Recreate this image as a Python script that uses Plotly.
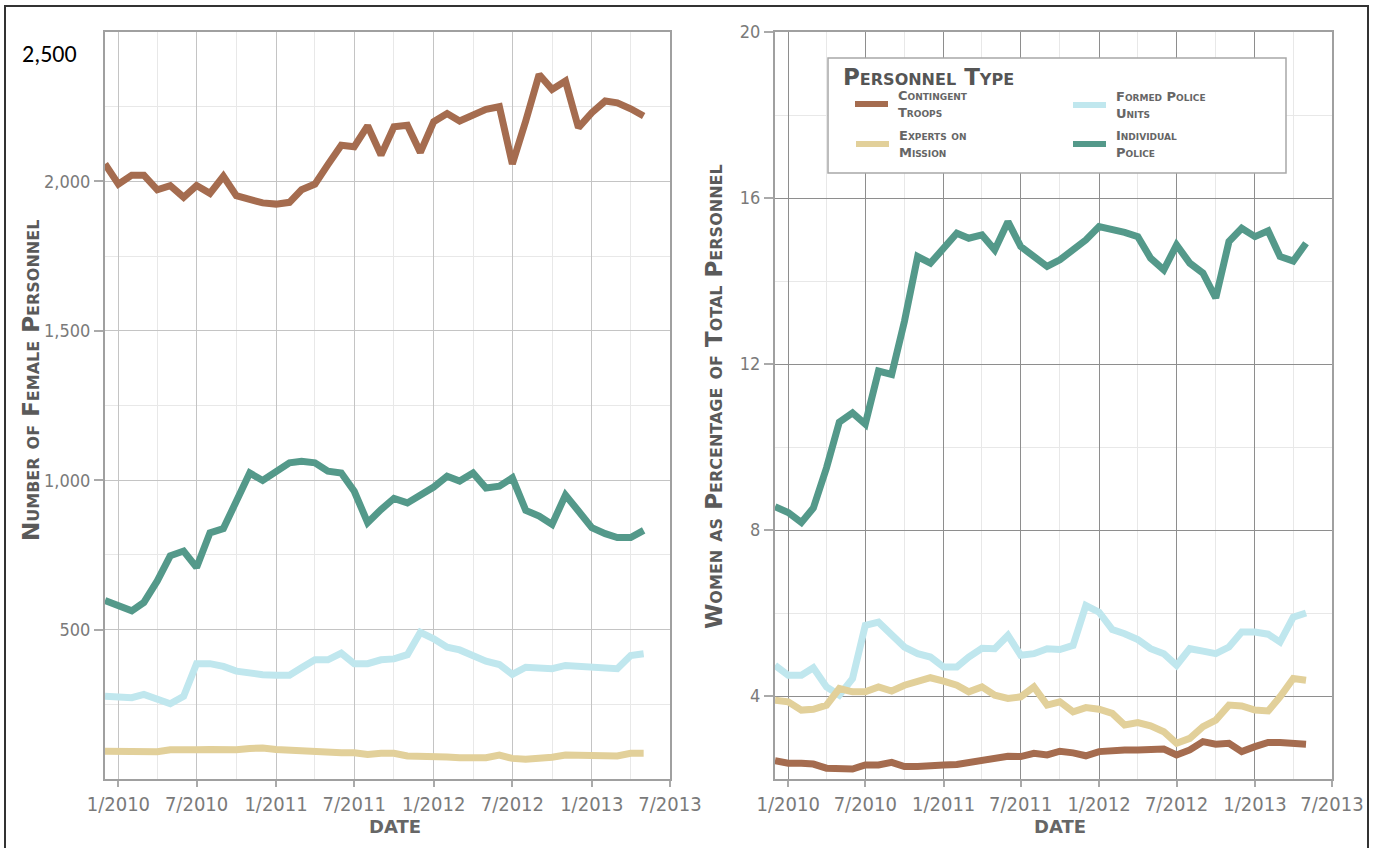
import pandas as pd
import plotly.graph_objects as go

# ---------------- data ----------------
dates = pd.date_range("2009-12-01", periods=42, freq="MS")

series_names = ["Contingent Troops", "Experts on Mission", "Formed Police Units", "Individual Police"]
colors = {
    "Contingent Troops": "#a56c4f",
    "Experts on Mission": "#e2d09a",
    "Formed Police Units": "#c0e7ee",
    "Individual Police": "#54998a",
}

# Number of female personnel
count_contingent = [2058, 1991, 2021, 2021, 1972, 1986, 1947, 1986, 1960, 2017, 1952, 1939, 1928, 1924,
                    1930, 1972, 1991, 2056, 2121, 2116, 2186, 2088, 2183, 2188, 2097, 2200, 2227, 2202,
                    2219, 2241, 2250, 2058, 2202, 2358, 2308, 2336, 2180, 2230, 2269, 2263, 2243, 2219]
count_experts = [93, 91, 89, 88, 91, 98, 96, 98, 99, 96, 98, 102, 104, 99,
                 96, 93, 93, 89, 88, 88, 82, 86, 86, 77, 77, 77, 74, 71,
                 71, 71, 80, 69, 66, 68, 73, 80, 80, 77, 77, 77, 86, 86]
count_fpu = [277, 272, 272, 283, 266, 252, 277, 386, 386, 377, 361, 352, 349, 347,
             347, 372, 399, 399, 421, 386, 386, 399, 402, 416, 491, 469, 441, 432,
             410, 394, 383, 350, 374, 371, 369, 380, 377, 377, 374, 369, 413, 419]
count_ip = [597, 577, 563, 591, 663, 747, 763, 708, 824, 838, 930, 1024, 999, 1030,
            1058, 1063, 1058, 1030, 1024, 963, 858, 902, 939, 924, 950, 977, 1013, 997,
            1024, 974, 980, 1008, 899, 880, 852, 950, 897, 841, 821, 808, 808, 832]

# Women as percentage of total personnel
pct_contingent = [2.44, 2.38, 2.38, 2.36, 2.26, 2.26, 2.24, 2.34, 2.34, 2.40, 2.30, 2.30, 2.30, 2.34,
                  2.35, 2.40, 2.42, 2.50, 2.55, 2.54, 2.62, 2.58, 2.67, 2.63, 2.56, 2.66, 2.70, 2.70,
                  2.70, 2.71, 2.72, 2.58, 2.70, 2.90, 2.84, 2.86, 2.66, 2.78, 2.88, 2.88, 2.88, 2.84]
pct_experts = [3.90, 3.86, 3.66, 3.68, 3.78, 4.18, 4.10, 4.10, 4.22, 4.12, 4.26, 4.34, 4.44, 4.36,
               4.26, 4.10, 4.22, 4.02, 3.94, 3.98, 4.22, 3.78, 3.86, 3.62, 3.72, 3.68, 3.58, 3.30,
               3.36, 3.28, 3.14, 2.86, 2.98, 3.26, 3.42, 3.78, 3.76, 3.66, 3.64, 3.98, 4.42, 4.38]
pct_fpu = [4.74, 4.50, 4.50, 4.68, 4.22, 4.02, 4.42, 5.70, 5.78, 5.50, 5.18, 5.02, 4.94, 4.70,
           4.70, 4.94, 5.15, 5.14, 5.46, 4.98, 5.02, 5.14, 5.12, 5.22, 6.18, 6.02, 5.60, 5.50,
           5.36, 5.14, 5.02, 4.74, 5.14, 5.08, 5.02, 5.18, 5.54, 5.54, 5.49, 5.30, 5.90, 6.00]
pct_ip = [8.56, 8.42, 8.18, 8.53, 9.50, 10.60, 10.82, 10.55, 11.83, 11.75, 13.03, 14.59, 14.43, 14.79,
          15.15, 15.03, 15.11, 14.75, 15.43, 14.83, 14.59, 14.35, 14.51, 14.75, 14.99, 15.31, 15.25, 15.17,
          15.07, 14.55, 14.27, 14.87, 14.43, 14.19, 13.59, 14.95, 15.27, 15.07, 15.21, 14.59, 14.48, 14.91]

left_ticks = [500, 1000, 1500, 2000]
left_ticktext = ["500", "1,000", "1,500", "2,000"]
right_ticks = [4, 8, 12, 16, 20]
right_ticktext = ["4", "8", "12", "16", "20"]

# ---------------- figure ----------------
W, H = 1375, 848
def px(x):
    return x / W
def py(y):
    return 1 - y / H

fig = go.Figure()

left_data = {
    "Formed Police Units": count_fpu,
    "Experts on Mission": count_experts,
    "Contingent Troops": count_contingent,
    "Individual Police": count_ip,
}
right_data = {
    "Formed Police Units": pct_fpu,
    "Experts on Mission": pct_experts,
    "Contingent Troops": pct_contingent,
    "Individual Police": pct_ip,
}
for name, vals in left_data.items():
    fig.add_trace(go.Scatter(x=dates, y=vals, mode="lines", name=name, showlegend=False,
                             line=dict(color=colors[name], width=7), xaxis="x", yaxis="y"))
for name, vals in right_data.items():
    fig.add_trace(go.Scatter(x=dates, y=vals, mode="lines", name=name, showlegend=False,
                             line=dict(color=colors[name], width=7), xaxis="x2", yaxis="y2"))

narrow = "Noto Sans ExtraCondensed, Noto Sans Condensed, DejaVu Sans Condensed, Liberation Sans Narrow, Liberation Sans, sans-serif"
tick_font_x = dict(family=narrow, size=20, color="#7a7a7a")
tick_font_y = dict(family=narrow, size=18, color="#7a7a7a")

def xaxis_cfg(domain, gridcolor):
    return dict(domain=domain, type="date", range=["2009-12-01", "2013-07-01"],
                tick0="2010-01-01", dtick="M6", tickformat="%-m/%Y", tickangle=0,
                ticks="outside", ticklen=6, tickcolor="#aaaaaa", tickwidth=1.5,
                showgrid=True, gridcolor=gridcolor, gridwidth=1.3,
                minor=dict(dtick="M3", tick0="2010-01-01", showgrid=True, gridcolor="#e8e8e8", gridwidth=1),
                showline=True, linecolor="#a0a0a0", linewidth=2, mirror=True,
                zeroline=False, tickfont=tick_font_x, fixedrange=True, automargin=False)

def yaxis_cfg(domain, rng, tv, tt, minor_dtick, gridcolor, anchor):
    return dict(domain=domain, range=rng, tickmode="array", tickvals=tv, ticktext=tt,
                ticks="outside", ticklen=9, tickcolor="#aaaaaa", tickwidth=1.5,
                showgrid=True, gridcolor=gridcolor, gridwidth=1.3,
                minor=dict(dtick=minor_dtick, tick0=0, showgrid=True, gridcolor="#e8e8e8", gridwidth=1),
                showline=True, linecolor="#a0a0a0", linewidth=2, mirror=True,
                zeroline=False, tickfont=tick_font_y, anchor=anchor, fixedrange=True, automargin=False)

ydom = [69 / H, 1 - 32 / H]
fig.update_layout(
    width=W, height=H,
    margin=dict(l=0, r=0, t=0, b=0, autoexpand=False),
    paper_bgcolor="white", plot_bgcolor="white",
    xaxis=xaxis_cfg([px(105), px(670)], "#c4c4c4") | dict(anchor="y"),
    yaxis=yaxis_cfg(ydom, [0, 2500], left_ticks, left_ticktext, 250, "#c4c4c4", "x"),
    xaxis2=xaxis_cfg([px(775), px(1332)], "#8e8e8e") | dict(anchor="y2"),
    yaxis2=yaxis_cfg(ydom, [2, 20], right_ticks, right_ticktext, 2, "#8e8e8e", "x2"),
    showlegend=False,
)

title_font = dict(family="DejaVu Sans, Verdana, sans-serif", size=23, color="#5a5a5a", weight="bold", variant="small-caps")
ann = []
ann.append(dict(text="Number of Female Personnel", x=px(31), y=py(381), textangle=-90, font=title_font))
ann.append(dict(text="Women as Percentage of Total Personnel", x=px(714), y=py(396), textangle=-90, font=title_font))
date_font = dict(family="DejaVu Sans, Verdana, sans-serif", size=18, color="#666666", weight="bold")
ann.append(dict(text="DATE", x=px(395), y=py(826), font=date_font))
ann.append(dict(text="DATE", x=px(1060), y=py(826), font=date_font))
ann.append(dict(text="2,500", x=px(20), y=py(53), xanchor="left",
                font=dict(family="Carlito, Liberation Sans, Arial, sans-serif", size=24, color="#000000")))

# legend (manual)
shapes = []
shapes.append(dict(type="rect", xref="paper", yref="paper", x0=px(828), x1=px(1286), y0=py(173), y1=py(58),
                   fillcolor="white", line=dict(color="#a8a8a8", width=1.5), layer="above"))
ann.append(dict(text="Personnel Type", x=px(841), y=py(77), xanchor="left",
                font=dict(family="DejaVu Sans, Verdana, sans-serif", size=23, color="#555555", weight="bold", variant="small-caps")))
legend_items = [
    ("Contingent Troops", "Contingent<br>Troops", 855, 104),
    ("Formed Police Units", "Formed Police<br>Units", 1073, 105),
    ("Experts on Mission", "Experts on<br>Mission", 856, 144),
    ("Individual Police", "Individual<br>Police", 1073, 144),
]
item_font = dict(family="DejaVu Sans, Verdana, sans-serif", size=13, color="#666666", weight="bold", variant="small-caps")
for key, label, x0, yc in legend_items:
    shapes.append(dict(type="line", xref="paper", yref="paper", x0=px(x0), x1=px(x0 + 33), y0=py(yc), y1=py(yc),
                       line=dict(color=colors[key], width=6), layer="above"))
    ann.append(dict(text=label, x=px(x0 + 41), y=py(yc), xanchor="left", yanchor="middle", align="left",
                    font=item_font))

# outer frame
shapes.append(dict(type="rect", xref="paper", yref="paper", x0=px(5), x1=px(1368), y0=-0.02, y1=py(6),
                   line=dict(color="#333333", width=2), fillcolor="rgba(0,0,0,0)", layer="above"))

for a in ann:
    a.update(xref="paper", yref="paper", showarrow=False)
    a.setdefault("xanchor", "center")
    a.setdefault("yanchor", "middle")
fig.update_layout(annotations=ann, shapes=shapes)

fig.write_html("out.html", config={"displayModeBar": False},
               post_script="document.body.style.margin='0px';document.body.style.overflow='hidden';")
